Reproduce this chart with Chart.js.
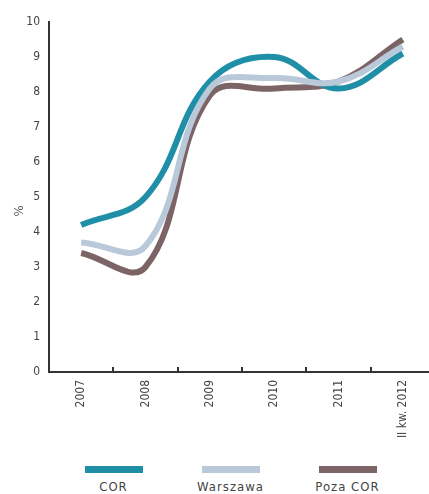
<!DOCTYPE html>
<html lang="pl">
<head>
<meta charset="utf-8">
<script src="https://cdn.jsdelivr.net/npm/chart.js@4/dist/chart.umd.min.js"></script>
<style>
  html, body { margin: 0; padding: 0; background: #fff; overflow: hidden; width: 429px; height: 494px; }
  #wrap { position: relative; width: 429px; height: 494px; }
  #c { position: absolute; left: 0; top: 0; }
  #legend { position: absolute; left: 55px; top: 466px; display: flex; }
  .item { width: 117px; display: flex; flex-direction: column; align-items: center; }
  .sw { width: 58px; height: 7px; }
  .lb { margin-top: 8px; font: 13px "Liberation Sans Narrow", "DejaVu Sans Condensed", "Roboto", sans-serif; color: #444; line-height: 12px; letter-spacing: 1px; }
</style>
</head>
<body>
<div id="wrap">
  <canvas id="c" width="440" height="455"></canvas>
  <div id="legend"></div>
</div>
<script>
// Rok / okres
const categories = ['2007', '2008', '2009', '2010', '2011', 'II kw. 2012'];
// Stopa pustostanów, %
const cor = [4.2, 5.0, 8.3, 9.0, 8.1, 9.1];
const warszawa = [3.7, 3.6, 8.1, 8.4, 8.3, 9.3];
const pozaCor = [3.4, 3.0, 7.9, 8.1, 8.3, 9.5];
const yTicks = [0, 1, 2, 3, 4, 5, 6, 7, 8, 9, 10];
const seriesNames = ['COR', 'Warszawa', 'Poza COR'];
const seriesColors = ['#1f8fa8', '#b9c9d9', '#7c6365'];

const FONT = '"Liberation Sans Narrow", "DejaVu Sans Condensed", "Roboto", sans-serif';
const AXIS = '#333333';

// small inward tick marks between categories, plus the "%" unit label
const axisExtras = {
  id: 'axisExtras',
  afterDraw(chart) {
    const { ctx, scales: { x, y }, chartArea } = chart;
    ctx.save();
    ctx.strokeStyle = AXIS;
    ctx.lineWidth = 2;
    for (let i = 0; i < categories.length - 1; i++) {
      const px = Math.round((x.getPixelForValue(i) + x.getPixelForValue(i + 1)) / 2);
      ctx.beginPath();
      ctx.moveTo(px, chartArea.bottom);
      ctx.lineTo(px, chartArea.bottom - 5);
      ctx.stroke();
    }
    ctx.translate(20, y.getPixelForValue(4.6));
    ctx.rotate(-Math.PI / 2);
    ctx.fillStyle = '#555';
    ctx.font = '13px ' + FONT;
    ctx.textAlign = 'center';
    ctx.textBaseline = 'middle';
    ctx.fillText('%', 0, 0);
    ctx.restore();
  }
};

const dataSets = [cor, warszawa, pozaCor].map((vals, i) => ({
  label: seriesNames[i],
  data: vals,
  borderColor: seriesColors[i],
  backgroundColor: seriesColors[i],
  borderWidth: 6,
  pointRadius: 0,
  tension: 0.4,
  fill: false,
  order: [1, 0, 2][i]
}));

new Chart(document.getElementById('c'), {
  type: 'line',
  data: { labels: categories, datasets: dataSets },
  options: {
    responsive: false,
    animation: false,
    layout: { padding: { top: 22, right: 5, left: 0, bottom: 0 } },
    plugins: { legend: { display: false }, tooltip: { enabled: false } },
    scales: {
      x: {
        offset: true,
        grid: { display: false, drawTicks: false },
        border: { display: true, color: AXIS, width: 2 },
        ticks: {
          minRotation: 90, maxRotation: 90, padding: 8,
          color: '#444', font: { family: FONT, size: 12 }
        },
        afterFit(s) { s.height = 83; }
      },
      y: {
        min: 0, max: 10,
        afterBuildTicks(s) { s.ticks = yTicks.map(v => ({ value: v })); },
        grid: { display: false, drawTicks: false },
        border: { display: true, color: AXIS, width: 2 },
        ticks: { padding: 9, color: '#444', font: { family: FONT, size: 12 } },
        afterFit(s) { s.width = 49; }
      }
    }
  },
  plugins: [axisExtras]
});

// legend: swatch above each series name
const legend = document.getElementById('legend');
seriesNames.forEach((name, i) => {
  const item = document.createElement('div');
  item.className = 'item';
  const sw = document.createElement('div');
  sw.className = 'sw';
  sw.style.background = seriesColors[i];
  const lb = document.createElement('div');
  lb.className = 'lb';
  lb.textContent = name;
  item.appendChild(sw);
  item.appendChild(lb);
  legend.appendChild(item);
});
</script>
</body>
</html>
